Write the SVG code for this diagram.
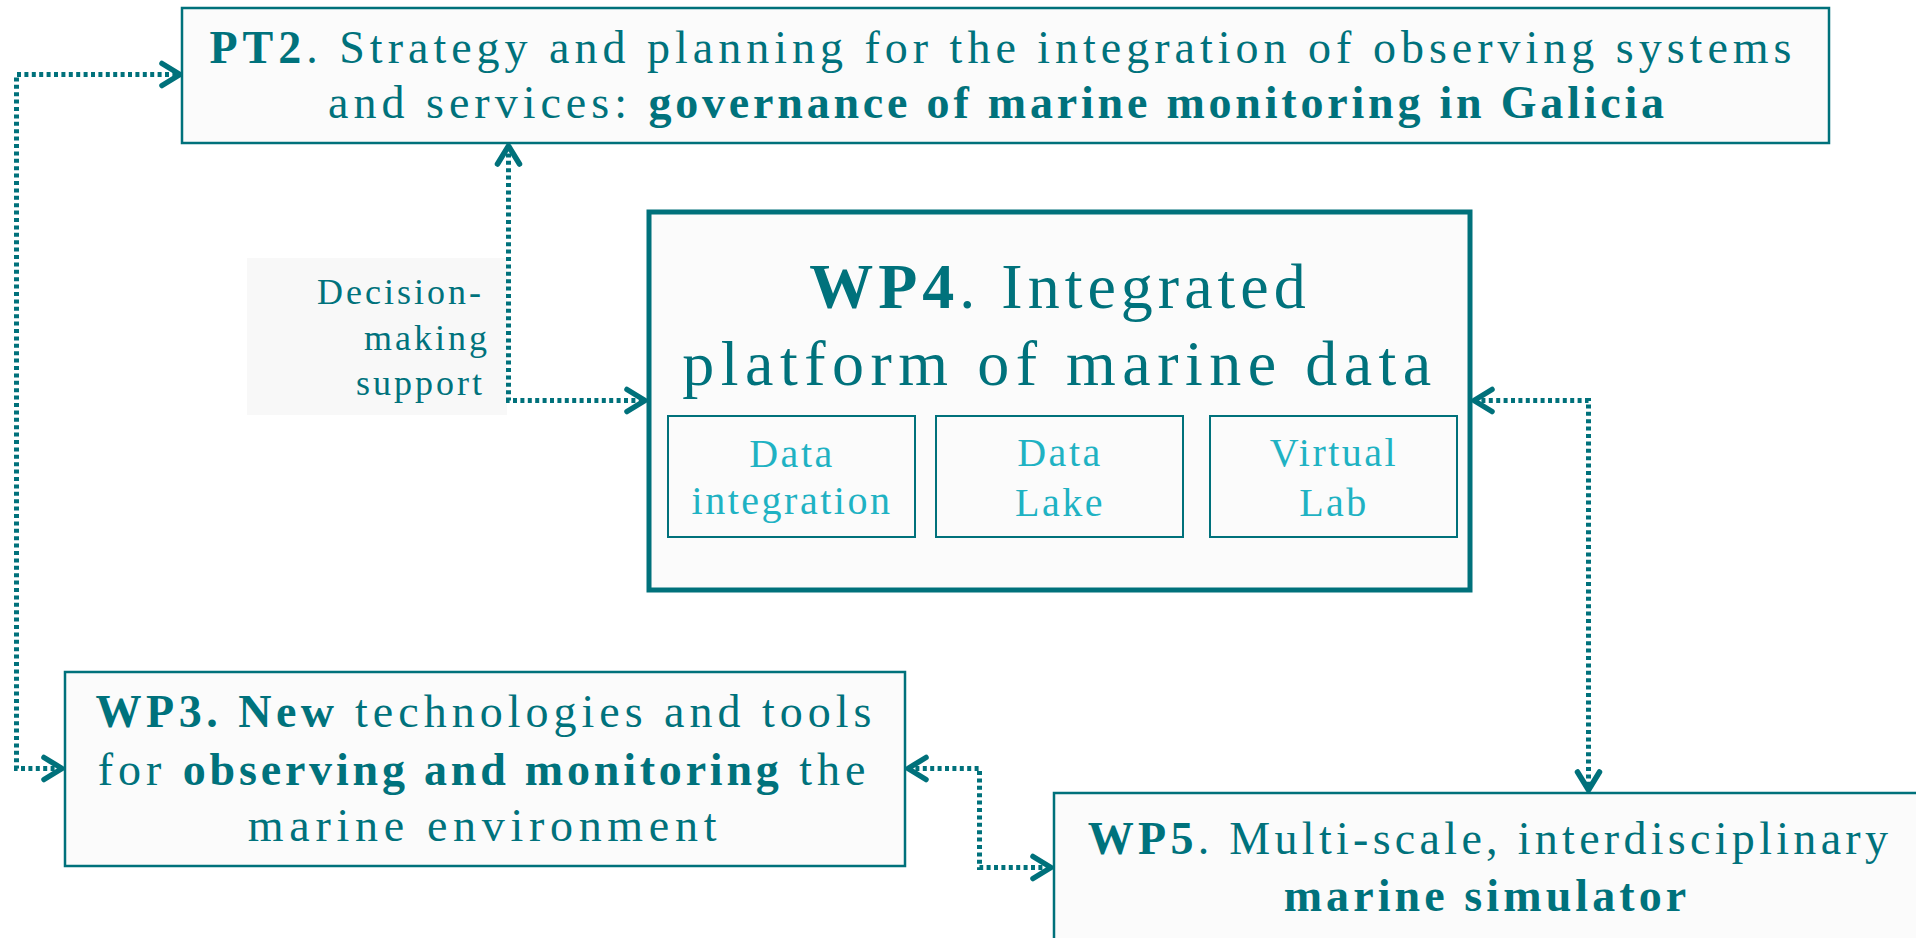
<svg xmlns="http://www.w3.org/2000/svg" width="1916" height="938" viewBox="0 0 1916 938">
<defs>
<style>
.box{fill:#fbfbfb;stroke:#00717b;stroke-width:2.5}
.big{fill:#fbfbfb;stroke:#00717b;stroke-width:5}
.sub{fill:#fbfbfb;stroke:#00717b;stroke-width:2}
.t{font-family:"Liberation Serif","Times New Roman",serif;fill:#00727c;font-size:46px;letter-spacing:5px}
.b{font-weight:bold;letter-spacing:3.8px}
.st{font-family:"Liberation Serif","Times New Roman",serif;fill:#1fb2c3;font-size:40px;letter-spacing:2.5px;text-anchor:middle}
.lbl{font-family:"Liberation Serif","Times New Roman",serif;fill:#00727c;font-size:36px;letter-spacing:3px;text-anchor:end}
.c{fill:none;stroke:#00717b;stroke-width:5;stroke-dasharray:4 3.4;marker-start:url(#ah);marker-end:url(#ah)}
</style>
<marker id="ah" markerUnits="userSpaceOnUse" orient="auto-start-reverse" refX="0" refY="0" markerWidth="30" markerHeight="30" overflow="visible">
<path d="M-18,-11 L0,0 L-18,11" fill="none" stroke="#00717b" stroke-width="5.5" stroke-linecap="round" stroke-linejoin="round" stroke-dasharray="none"/>
</marker>
</defs>
<rect width="1916" height="938" fill="#ffffff"/>

<g id="label-decision">
<rect x="247" y="258" width="260" height="157" fill="#f8f8f8"/>
<text class="lbl" x="484" y="304">Decision-</text>
<text class="lbl" x="490" y="350">making</text>
<text class="lbl" x="485" y="395">support</text>
</g>

<g id="PT2">
<rect class="box" x="182" y="8" width="1647" height="135"/>
<text class="t" x="1003" y="63" text-anchor="middle"><tspan class="b" style="letter-spacing:5px">PT2</tspan>. Strategy and planning for the integration of observing systems</text>
<text class="t" x="998" y="118" text-anchor="middle">and services: <tspan class="b">governance of marine monitoring in Galicia</tspan></text>
</g>

<g id="WP4">
<rect class="big" x="649" y="212" width="821" height="378"/>
<text class="t" x="1060" y="308" text-anchor="middle" style="font-size:64px;letter-spacing:5px"><tspan font-weight="bold">WP4</tspan>. Integrated</text>
<text class="t" x="1060" y="385" text-anchor="middle" style="font-size:64px;letter-spacing:6.5px">platform of marine data</text>
<g id="WP4-data-integration">
<rect class="sub" x="668" y="416" width="247" height="121"/>
<text class="st" x="792" y="467">Data</text>
<text class="st" x="792" y="514">integration</text>
</g>
<g id="WP4-data-lake">
<rect class="sub" x="936" y="416" width="247" height="121"/>
<text class="st" x="1060" y="466">Data</text>
<text class="st" x="1060" y="516">Lake</text>
</g>
<g id="WP4-virtual-lab">
<rect class="sub" x="1210" y="416" width="247" height="121"/>
<text class="st" x="1334" y="466">Virtual</text>
<text class="st" x="1334" y="516">Lab</text>
</g>
</g>

<g id="WP3">
<rect class="box" x="65" y="672" width="840" height="194"/>
<text class="t" x="486" y="727" text-anchor="middle"><tspan class="b" style="letter-spacing:4.5px">WP3. New</tspan> technologies and tools</text>
<text class="t" x="484" y="785" text-anchor="middle">for <tspan class="b">observing and monitoring</tspan> the</text>
<text class="t" x="485" y="841" text-anchor="middle" style="letter-spacing:5.7px">marine environment</text>
</g>

<g id="WP5">
<rect class="box" x="1054" y="793" width="900" height="200"/>
<text class="t" x="1490" y="854" text-anchor="middle" style="letter-spacing:4.3px"><tspan class="b" style="letter-spacing:4.3px">WP5</tspan>. Multi-scale, interdisciplinary</text>
<text class="t b" x="1487" y="911" text-anchor="middle" style="letter-spacing:4.1px">marine simulator</text>
</g>

<g id="connectors">
<path class="c" d="M62,768.5 H16.5 V74.5 H180"/>
<path class="c" d="M508.5,146 V400.5 H645"/>
<path class="c" d="M1474,400.5 H1588.5 V790"/>
<path class="c" d="M908,768.5 H979.5 V867.5 H1051"/>
</g>
</svg>
